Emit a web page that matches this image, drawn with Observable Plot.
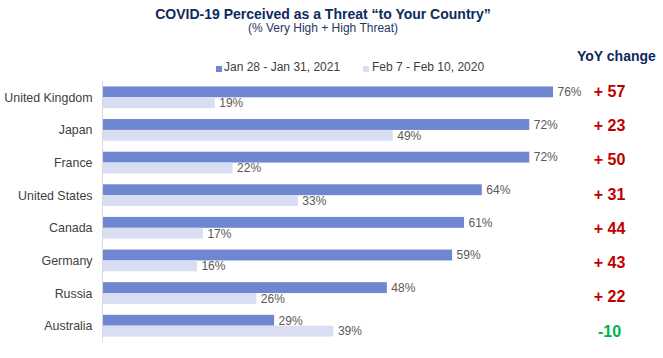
<!DOCTYPE html>
<html>
<head>
<meta charset="utf-8">
<script src="https://cdn.jsdelivr.net/npm/d3@7"></script>
<script src="https://cdn.jsdelivr.net/npm/@observablehq/plot@0.6"></script>
<style>
  body { margin: 0; background: #fff; font-family: "Liberation Sans", Arial, sans-serif; }
  #wrap { position: relative; width: 663px; height: 358px; overflow: hidden; }
  #wrap svg { position: absolute; left: 0; top: 0; }
  .abs { position: absolute; white-space: nowrap; line-height: 1; }
  .title { left: 0; width: 646px; text-align: center; top: 7px; font-size: 14px; font-weight: bold; color: #0E2A5C; }
  .subtitle { left: 0; width: 646px; text-align: center; top: 22px; font-size: 12px; color: #1F3864; }
  .leg { top: 61px; font-size: 12px; color: #404040; }
  .sw { position: absolute; width: 6px; height: 6px; top: 66px; }
  .yoyhead { left: 577px; top: 49px; font-size: 14px; font-weight: bold; color: #0E2A5C; }
</style>
</head>
<body>
<div id="wrap">
  <div class="abs title">COVID-19 Perceived as a Threat “to Your Country”</div>
  <div class="abs subtitle">(% Very High + High Threat)</div>
  <div class="sw" id="sw0" style="left:216px"></div>
  <div class="abs leg" id="lg0" style="left:224px"></div>
  <div class="sw" id="sw1" style="left:363px"></div>
  <div class="abs leg" id="lg1" style="left:372px"></div>
  <div class="abs yoyhead">YoY change</div>
</div>
<script>
const countries = ["United Kingdom", "Japan", "France", "United States", "Canada", "Germany", "Russia", "Australia"];
const seriesNames = ["Jan 28 - Jan 31, 2021", "Feb 7 - Feb 10, 2020"];
const values2021 = [76, 72, 72, 64, 61, 59, 48, 29];
const values2020 = [19, 49, 22, 33, 17, 16, 26, 39];
const yoyChange = [57, 23, 50, 31, 44, 43, 22, -10];
const colors = ["#6F86D0", "#D9DEF3"];

const data = countries.flatMap((c, i) => [
  {country: c, series: seriesNames[0], value: values2021[i]},
  {country: c, series: seriesNames[1], value: values2020[i]}
]);
const yoyData = countries.map((c, i) => ({
  country: c, change: yoyChange[i],
  label: yoyChange[i] >= 0 ? "+ " + yoyChange[i] : String(yoyChange[i])
}));

document.getElementById("sw0").style.background = colors[0];
document.getElementById("sw1").style.background = colors[1];
document.getElementById("lg0").textContent = seriesNames[0];
document.getElementById("lg1").textContent = seriesNames[1];

const pxPerUnit = 451 / 76;
const chart = Plot.plot({
  width: 663,
  height: 358,
  marginLeft: 102,
  marginRight: 0,
  marginTop: 81,
  marginBottom: 16,
  style: {fontFamily: "'Liberation Sans', Arial, sans-serif", background: "transparent", color: "#404040"},
  x: {domain: [0, (663 - 102) / pxPerUnit], axis: null},
  y: {domain: seriesNames, axis: null, paddingInner: 0, paddingOuter: 0.5, round: false},
  fy: {domain: countries, padding: 0, axis: null, round: false},
  marks: [
    Plot.barX(data.filter(d => d.series === seriesNames[0]), {fy: "country", y: "series", x: "value", fill: colors[0]}),
    Plot.barX(data.filter(d => d.series === seriesNames[1]), {fy: "country", y: "series", x: "value", fill: colors[1]}),
    Plot.text(data, {fy: "country", y: "series", x: "value", text: d => d.value + "%", dx: 4, textAnchor: "start", fill: "#595959", fontSize: 12}),
    Plot.ruleX([0], {stroke: "#D9D9D9", strokeWidth: 1}),
    Plot.axisFy({anchor: "left", tickSize: 0, tickPadding: 10, fontSize: 12.4, label: null, fill: "#404040"})
  ]
});
document.getElementById("wrap").appendChild(chart);

// YoY change column: its own point scale, spaced slightly wider than the bar rows
const yoyChart = Plot.plot({
  width: 663,
  height: 358,
  marginLeft: 560,
  marginRight: 0,
  marginTop: 74,
  marginBottom: 10,
  style: {fontFamily: "'Liberation Sans', Arial, sans-serif", background: "transparent"},
  x: {axis: null},
  y: {type: "point", domain: countries, axis: null, padding: 0.5, round: false},
  marks: [
    Plot.text(yoyData.filter(d => d.change >= 0), {y: "country", text: "label", frameAnchor: "right", dx: -54, textAnchor: "middle", fill: "#C00000", fontWeight: "bold", fontSize: 16}),
    Plot.text(yoyData.filter(d => d.change < 0), {y: "country", text: "label", frameAnchor: "right", dx: -54, textAnchor: "middle", fill: "#00B050", fontWeight: "bold", fontSize: 16})
  ]
});
document.getElementById("wrap").appendChild(yoyChart);
</script>
</body>
</html>
